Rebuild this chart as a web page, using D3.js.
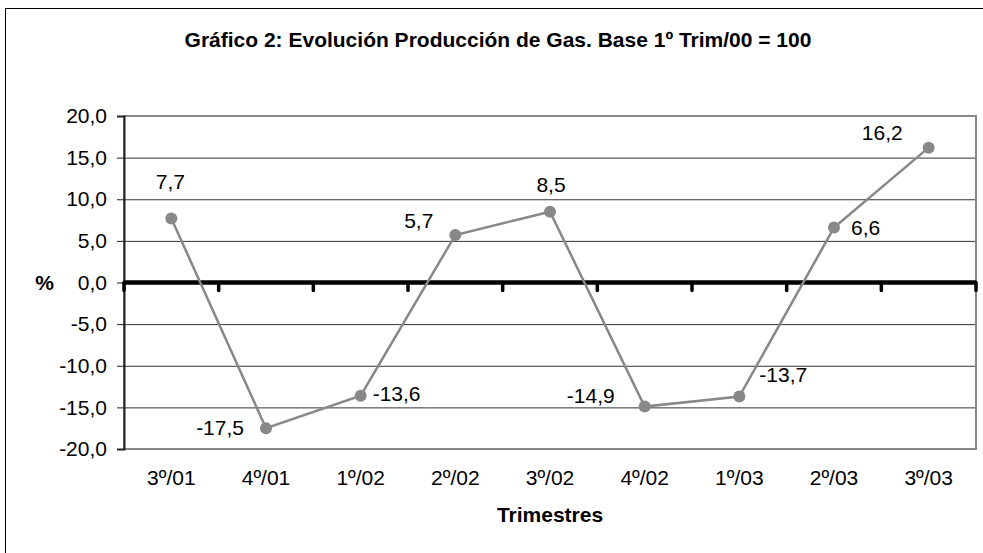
<!DOCTYPE html>
<html>
<head>
<meta charset="utf-8">
<script src="https://cdn.jsdelivr.net/npm/d3@7"></script>
<style>
  body { margin: 0; background: #fff; }
  svg { display: block; font-family: "Liberation Sans", Arial, sans-serif; }
</style>
</head>
<body>
<div id="chart"></div>
<script>
// data
const quarters = ["3º/01", "4º/01", "1º/02", "2º/02", "3º/02", "4º/02", "1º/03", "2º/03", "3º/03"];
const values = [7.7, -17.5, -13.6, 5.7, 8.5, -14.9, -13.7, 6.6, 16.2];
const yTicks = [20, 15, 10, 5, 0, -5, -10, -15, -20];
// data label placement around each point: [dx, dy, anchor]
const labelPlace = [
    [-1, -29, "middle"],
    [-22, 7, "end"],
    [12, 5, "start"],
    [-22, -7, "end"],
    [1, -20, "middle"],
    [-30, -4, "end"],
    [20, -15, "start"],
    [17, 7, "start"],
    [-26, -8, "end"]
];

const W = 983, H = 553;
const margin = { top: 116, right: 7, bottom: 104, left: 124 };
const width = W - margin.left - margin.right;
const height = H - margin.top - margin.bottom;
const fs = 21;

const fmt = d => d3.format(".1f")(d).replace(".", ",").replace("−", "-");

const svg = d3.select("#chart")
    .append("svg")
    .attr("width", W)
    .attr("height", H);

// outer chart border
svg.append("rect")
    .attr("x", 5.5).attr("y", 8.5)
    .attr("width", W).attr("height", H)
    .attr("fill", "none")
    .attr("stroke", "#000")
    .attr("stroke-width", 1);

svg.append("text")
    .attr("x", 498).attr("y", 47)
    .attr("text-anchor", "middle")
    .attr("font-size", 21)
    .attr("font-weight", "bold")
    .text("Gráfico 2: Evolución Producción de Gas. Base 1º Trim/00 = 100");

const g = svg.append("g")
    .attr("transform", `translate(${margin.left},${margin.top})`);

const x = d3.scaleBand().domain(quarters).range([0, width]);
const y = d3.scaleLinear().domain([-20, 20]).range([height, 0]);

// gridlines
g.selectAll(".grid")
    .data(yTicks.filter(t => t !== 20 && t !== -20 && t !== 0))
    .enter().append("line")
    .attr("x1", 0).attr("x2", width)
    .attr("y1", d => y(d) + 0.5).attr("y2", d => y(d) + 0.5)
    .attr("stroke", "#333")
    .attr("stroke-width", 1);

// plot area border (grey)
g.append("rect")
    .attr("x", 0).attr("y", 0)
    .attr("width", width).attr("height", height)
    .attr("fill", "none")
    .attr("stroke", "#888")
    .attr("stroke-width", 2);

// y axis
const yAxis = g.append("g")
    .call(d3.axisLeft(y).tickValues(yTicks).tickSize(7).tickPadding(10).tickFormat(fmt));
yAxis.select(".domain").attr("stroke", "#222").attr("stroke-width", 2);
yAxis.selectAll(".tick line").attr("stroke", "#222");
yAxis.selectAll("text")
    .attr("font-size", fs)
    .attr("font-family", "Liberation Sans, Arial, sans-serif")
    .attr("fill", "#000");

// zero axis with category boundary ticks
g.append("line")
    .attr("x1", 0).attr("x2", width)
    .attr("y1", y(0)).attr("y2", y(0))
    .attr("stroke", "#000")
    .attr("stroke-width", 4.5);

const bounds = quarters.map(q => x(q)).concat([width]);
g.selectAll(".xtick")
    .data(bounds)
    .enter().append("line")
    .attr("x1", d => d).attr("x2", d => d)
    .attr("y1", y(0)).attr("y2", y(0) + 8)
    .attr("stroke", "#000")
    .attr("stroke-linecap", "round")
    .attr("stroke-width", 3.5);

// category labels
g.selectAll(".xlab")
    .data(quarters)
    .enter().append("text")
    .attr("x", d => x(d) + x.bandwidth() / 2)
    .attr("y", height + 36)
    .attr("text-anchor", "middle")
    .attr("font-size", fs)
    .text(d => d);

svg.append("text")
    .attr("x", 44.5).attr("y", 290)
    .attr("text-anchor", "middle")
    .attr("font-size", fs)
    .attr("font-weight", "bold")
    .text("%");

svg.append("text")
    .attr("x", 550).attr("y", 522)
    .attr("text-anchor", "middle")
    .attr("font-size", fs)
    .attr("font-weight", "bold")
    .text("Trimestres");

// series
const cx = i => x(quarters[i]) + x.bandwidth() / 2;
const line = d3.line()
    .x((d, i) => cx(i))
    .y(d => y(d));

g.append("path")
    .datum(values)
    .attr("fill", "none")
    .attr("stroke", "#888")
    .attr("stroke-width", 2.5)
    .attr("d", line);

g.selectAll(".pt")
    .data(values)
    .enter().append("circle")
    .attr("cx", (d, i) => cx(i))
    .attr("cy", d => y(d))
    .attr("r", 6)
    .attr("fill", "#888");

// data labels
g.selectAll(".dl")
    .data(values)
    .enter().append("text")
    .attr("x", (d, i) => cx(i) + labelPlace[i][0])
    .attr("y", d => y(d))
    .attr("dy", (d, i) => labelPlace[i][1])
    .attr("text-anchor", (d, i) => labelPlace[i][2])
    .attr("font-size", fs)
    .text(fmt);
</script>
</body>
</html>
